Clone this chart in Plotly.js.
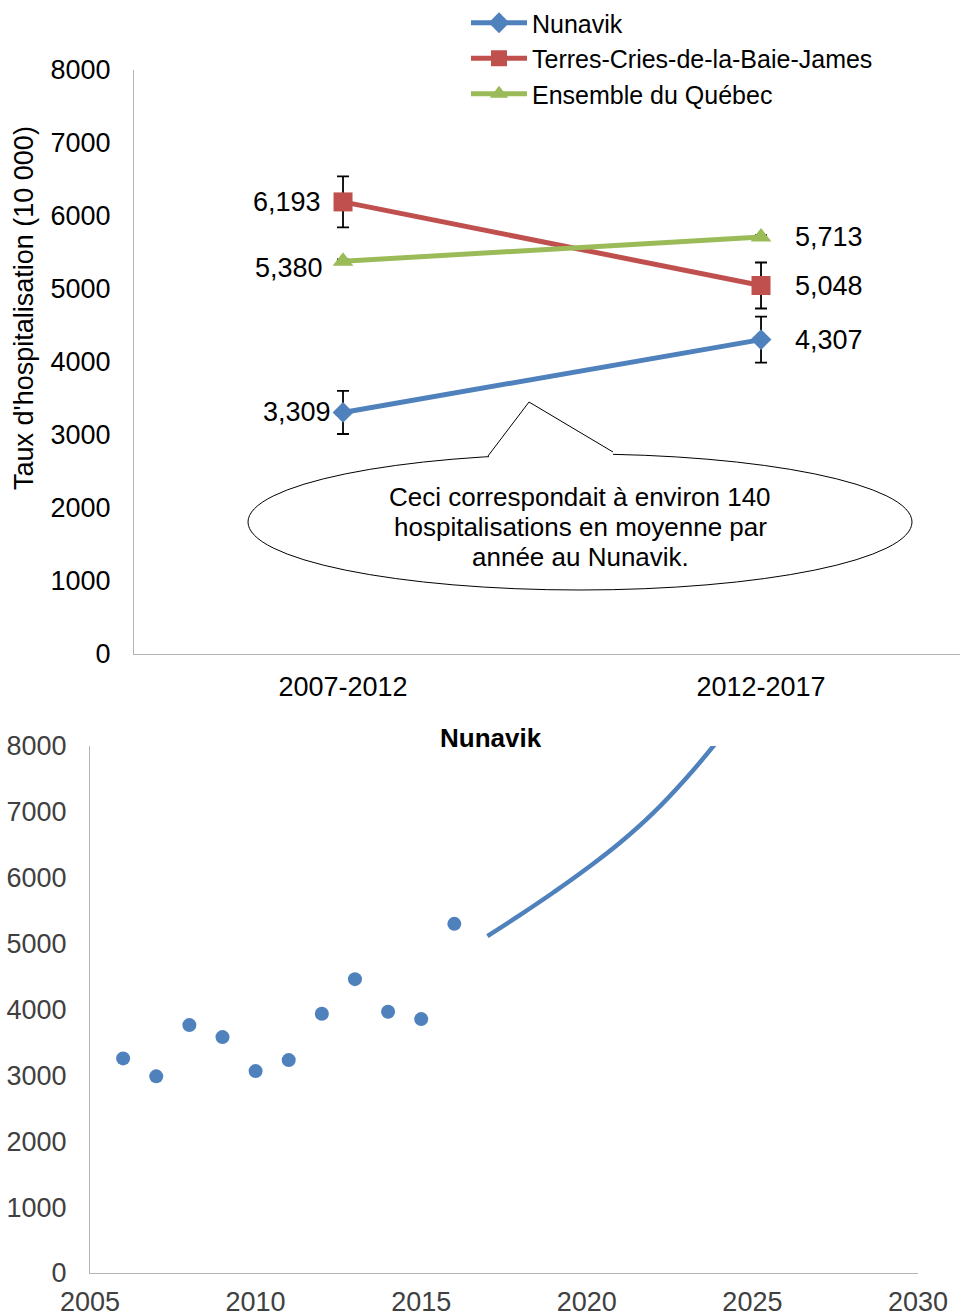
<!DOCTYPE html>
<html>
<head>
<meta charset="utf-8">
<script src="https://cdn.plot.ly/plotly-3.0.1.min.js"></script>
<style>html,body{margin:0;padding:0;background:#fff;}#chart{width:961px;height:1316px;}</style>
</head>
<body>
<div id="chart"></div>
<script>
// ---- Data: top chart ----
const periods = ["2007-2012", "2012-2017"];
const nunavik = [3309, 4307];
const nunavikErr = [295, 315];
const cries = [6193, 5048];
const criesErr = [350, 315];
const quebec = [5380, 5713];
const quebecErr = [25, 25];
const seriesNames = ["Nunavik", "Terres-Cries-de-la-Baie-James", "Ensemble du Québec"];
const yTitle = "Taux d'hospitalisation (10 000)";
const calloutLines = ["Ceci correspondait à environ 140", "hospitalisations en moyenne par", "année au Nunavik."];

// ---- Data: bottom chart ----
const obsYears = [2006, 2007, 2008, 2009, 2010, 2011, 2012, 2013, 2014, 2015, 2016];
const obsValues = [3258, 2985, 3763, 3581, 3065, 3232, 3935, 4461, 3965, 3854, 5300];
const projYears = [2017, 2018, 2019, 2020, 2021, 2022, 2023, 2024];
const projValues = [5115, 5440, 5780, 6140, 6530, 6980, 7510, 8110];
const bottomTitle = "Nunavik";

const W = 961, H = 1316;
const px = x => x / W;
const py = y => 1 - y / H;
const FONT = '"Liberation Sans", Arial, sans-serif';
const FS = 27;
const BLUE = '#4F81BD', RED = '#C0504D', GREEN = '#9BBB59';
const AXIS = '#B3B3B3';

function errObj(arr) {
  return {type: 'data', array: arr, visible: true, color: '#000', thickness: 1.8, width: 6};
}

const traces = [
  {x: periods, y: nunavik, name: seriesNames[0], type: 'scatter', mode: 'lines+markers',
   line: {color: BLUE, width: 5}, marker: {symbol: 'diamond', size: 16, color: BLUE},
   error_y: errObj(nunavikErr), xaxis: 'x', yaxis: 'y'},
  {x: periods, y: cries, name: seriesNames[1], type: 'scatter', mode: 'lines+markers',
   line: {color: RED, width: 5}, marker: {symbol: 'square', size: 19, color: RED},
   error_y: errObj(criesErr), xaxis: 'x', yaxis: 'y'},
  {x: periods, y: quebec, name: seriesNames[2], type: 'scatter', mode: 'lines+markers',
   line: {color: GREEN, width: 5}, marker: {symbol: 'triangle-up', size: 18, color: GREEN},
   error_y: errObj(quebecErr), xaxis: 'x', yaxis: 'y'},
  {x: obsYears, y: obsValues, type: 'scatter', mode: 'markers', showlegend: false,
   marker: {color: BLUE, size: 14}, xaxis: 'x2', yaxis: 'y2'},
  {x: projYears, y: projValues, type: 'scatter', mode: 'lines', showlegend: false,
   line: {color: BLUE, width: 4.5, shape: 'spline', smoothing: 1.3}, xaxis: 'x2', yaxis: 'y2'}
];

const fmt = v => v.toLocaleString('en-US');
const annotations = [];
const leftShift = [[-10, 0], [-20, 0], [-18, -7]];
const allSeries = [nunavik, cries, quebec];
allSeries.forEach((s, i) => {
  annotations.push({xref: 'x', yref: 'y', x: periods[0], y: s[0], text: fmt(s[0]), showarrow: false,
    xanchor: 'right', yanchor: 'middle', xshift: leftShift[i][0], yshift: leftShift[i][1],
    font: {family: FONT, size: FS, color: '#000'}});
  annotations.push({xref: 'x', yref: 'y', x: periods[1], y: s[1], text: fmt(s[1]), showarrow: false,
    xanchor: 'left', yanchor: 'middle', xshift: 32, yshift: 0,
    font: {family: FONT, size: FS, color: '#000'}});
});
annotations.push({xref: 'paper', yref: 'paper', x: px(24), y: py(308), text: yTitle, textangle: -90,
  showarrow: false, xanchor: 'center', yanchor: 'middle', font: {family: FONT, size: FS, color: '#000'}});
calloutLines.forEach((t, i) => {
  annotations.push({xref: 'paper', yref: 'paper', x: px(580), y: py(497 + 30 * i), text: t,
    showarrow: false, xanchor: 'center', yanchor: 'middle',
    font: {family: FONT, size: 26, color: '#000'}});
});
annotations.push({xref: 'paper', yref: 'paper', x: px(491), y: py(738), text: '<b>' + bottomTitle + '</b>',
  showarrow: false, xanchor: 'center', yanchor: 'middle', font: {family: FONT, size: 26, color: '#000'}});

const shapes = [
  {type: 'circle', xref: 'paper', yref: 'paper', x0: px(248), x1: px(912), y0: py(590), y1: py(454),
   line: {color: '#000', width: 1}, fillcolor: '#fff', layer: 'above'},
  {type: 'path', xref: 'paper', yref: 'paper', layer: 'above',
   path: `M${px(489)},${py(456)} L${px(529)},${py(402)} L${px(613)},${py(452)} L${px(613)},${py(462)} L${px(489)},${py(462)} Z`,
   fillcolor: '#fff', line: {width: 0}},
  {type: 'path', xref: 'paper', yref: 'paper', layer: 'above',
   path: `M${px(488)},${py(456)} L${px(529)},${py(402)} L${px(613)},${py(452)}`,
   fillcolor: 'rgba(0,0,0,0)', line: {color: '#000', width: 1}}
];

const layout = {
  width: W, height: H,
  margin: {l: 0, r: 0, t: 0, b: 0},
  paper_bgcolor: '#fff', plot_bgcolor: '#fff',
  font: {family: FONT, color: '#000'},
  showlegend: true,
  legend: {x: px(466), y: 1, xanchor: 'left', yanchor: 'top', bgcolor: 'rgba(0,0,0,0)',
    font: {family: FONT, size: 25, color: '#000'}, itemwidth: 56, tracegroupgap: 0},
  xaxis: {domain: [px(134), px(960)], type: 'category', range: [-0.5, 1.476], showgrid: false,
    showline: true, linecolor: AXIS, linewidth: 1, ticks: '', zeroline: false,
    tickfont: {family: FONT, size: FS, color: '#000'}, ticklabelstandoff: 9, anchor: 'y'},
  yaxis: {domain: [py(654), py(70)], range: [0, 8000], dtick: 1000, showgrid: false,
    showline: true, linecolor: AXIS, linewidth: 1, ticks: '', zeroline: false,
    tickfont: {family: FONT, size: FS, color: '#000'}, ticklabelstandoff: 17, anchor: 'x'},
  xaxis2: {domain: [px(90), px(918)], range: [2005, 2030], tick0: 2005, dtick: 5, showgrid: false,
    showline: true, linecolor: AXIS, linewidth: 1, ticks: '', zeroline: false,
    tickfont: {family: FONT, size: FS, color: '#404040'}, ticklabelstandoff: 5, anchor: 'y2'},
  yaxis2: {domain: [py(1273), py(746)], range: [0, 8000], dtick: 1000, showgrid: false,
    showline: true, linecolor: AXIS, linewidth: 1, ticks: '', zeroline: false,
    tickfont: {family: FONT, size: FS, color: '#404040'}, ticklabelstandoff: 17, anchor: 'x2'},
  annotations: annotations,
  shapes: shapes
};

Plotly.newPlot('chart', traces, layout, {staticPlot: true, displayModeBar: false});
</script>
</body>
</html>
